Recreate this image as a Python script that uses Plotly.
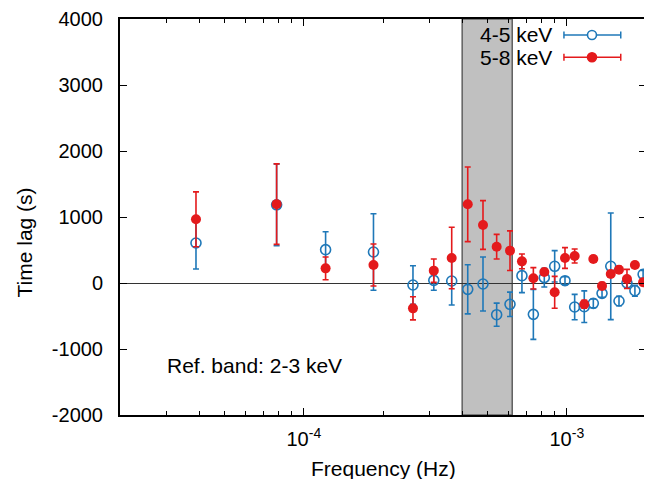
import plotly.graph_objects as go

# ---- data ----
freq = [3.89e-5, 7.88e-5, 1.21e-4, 1.84e-4, 2.60e-4, 3.12e-4, 3.65e-4, 4.20e-4,
        4.80e-4, 5.41e-4, 6.08e-4, 6.75e-4, 7.46e-4, 8.21e-4, 8.99e-4, 9.84e-4,
        1.071e-3, 1.165e-3, 1.261e-3, 1.361e-3, 1.469e-3, 1.579e-3, 1.693e-3,
        1.815e-3, 1.950e-3]

lag_45 = [606, 1185, 505, 470, -30, 40, 30, -96, -15, -480, -323, 111, -475, 81,
          253, 35, -364, -359, -308, -157, 253, -273, 0, -117, 132]
err_45 = [394, 620, 272, 580, 292, 150, 364, 372, 409, 175, 185, 257, 379, 141,
          237, 60, 192, 240, 66, 60, 808, 71, 68, 83, 60]

lag_58 = [965, 1195, 222, 273, -384, 187, 379, 1192, 879, 550, 490, 328, 71, 167,
          -141, 379, 409, -323, 364, -45, 136, 202, 61, 273, 11]
err_58 = [415, 610, 172, 318, 175, 177, 465, 565, 369, 187, 300, 111, 162, 50,
          242, 157, 106, 60, 50, 50, 50, 50, 145, 50, 50]

series_names = ["4-5 keV", "5-8 keV"]
ref_band_text = "Ref. band: 2-3 keV"
x_title = "Frequency (Hz)"
y_title = "Time lag (s)"
band_range = [4.0e-4, 6.2e-4]
x_range = [2e-5, 2e-3]
y_range = [-2000, 4000]
y_ticks = [-2000, -1000, 0, 1000, 2000, 3000, 4000]
y_tick_text = ["-2000", "-1000", "0", "1000", "2000", "3000", "4000"]
x_major = [1e-4, 1e-3]
x_major_text = ["10<sup>-4</sup>", "10<sup>-3</sup>"]
x_minor = [m * d for d in (1e-5, 1e-4, 1e-3) for m in range(2, 10)]

BLUE = "#1f78b8"
RED = "#e41a1c"
FONT = "Liberation Sans, Arial, Helvetica, sans-serif"
FS_TICK = 20
FS = 21

fig = go.Figure()

fig.add_trace(go.Scatter(
    x=freq, y=lag_45, mode="markers", name=series_names[0],
    marker=dict(symbol="circle-open", size=10, color=BLUE, line=dict(width=1.6, color=BLUE)),
    error_y=dict(type="data", array=err_45, color=BLUE, thickness=1.6, width=3),
    showlegend=False,
))
fig.add_trace(go.Scatter(
    x=freq, y=lag_58, mode="markers", name=series_names[1],
    marker=dict(symbol="circle", size=10, color=RED),
    error_y=dict(type="data", array=err_58, color=RED, thickness=1.6, width=3),
    showlegend=False,
))

# shaded band
fig.add_shape(type="rect", xref="x", yref="paper", x0=band_range[0], x1=band_range[1],
              y0=0, y1=1, fillcolor="#c0c0c0", line=dict(color="#606060", width=1.5),
              layer="below")

# custom legend (gnuplot style: text then sample with error bar)
for i, (name, col, sym) in enumerate([(series_names[0], BLUE, "open"), (series_names[1], RED, "filled")]):
    yp = [0.9596, 0.9033][i]
    x0p, x1p, xc = 0.844, 0.952, 0.8973
    fig.add_shape(type="line", xref="paper", yref="paper", x0=x0p, x1=x1p, y0=yp, y1=yp,
                  line=dict(color=col, width=1.5))
    for xe in (x0p, x1p):
        fig.add_shape(type="line", xref="paper", yref="paper", xsizemode="scaled",
                      ysizemode="pixel", yanchor=yp, x0=xe, x1=xe, y0=-3.5, y1=3.5,
                      line=dict(color=col, width=1.5))
    fig.add_shape(type="circle", xref="paper", yref="paper", xsizemode="pixel", ysizemode="pixel",
                  xanchor=xc, yanchor=yp, x0=-4.5, x1=4.5, y0=-4.5, y1=4.5,
                  fillcolor=("white" if sym == "open" else col),
                  line=dict(color=col, width=1.6))
    fig.add_annotation(x=0.826, y=yp, xref="paper", yref="paper", text=name,
                       showarrow=False, xanchor="right", yanchor="middle",
                       font=dict(family=FONT, size=FS, color="black"))

fig.add_annotation(x=0.086, y=0.126, xref="paper", yref="paper", text=ref_band_text,
                   showarrow=False, xanchor="left", yanchor="middle",
                   font=dict(family=FONT, size=FS, color="black"))

# axis titles as annotations for exact placement
fig.add_annotation(x=0.5, y=-0.134, xref="paper", yref="paper", text=x_title,
                   showarrow=False, xanchor="center", yanchor="middle",
                   font=dict(family=FONT, size=FS, color="black"))
fig.add_annotation(x=-0.1825, y=0.4356, xref="paper", yref="paper", text=y_title,
                   showarrow=False, xanchor="center", yanchor="middle", textangle=-90,
                   font=dict(family=FONT, size=FS, color="black"))

fig.update_xaxes(
    type="log", range=[-4.69897, -2.69897], automargin=False,
    tickmode="array", tickvals=x_major, ticktext=x_major_text,
    ticks="inside", ticklen=7, tickwidth=1.2, tickcolor="black",
    minor=dict(tickmode="array", tickvals=x_minor, ticks="inside", ticklen=4,
               tickwidth=1, tickcolor="black", showgrid=False),
    showline=True, linecolor="black", linewidth=2, mirror="allticks",
    showgrid=False, zeroline=False, ticklabelstandoff=5,
    tickfont=dict(family=FONT, size=FS_TICK, color="black"),
)
fig.update_yaxes(
    range=y_range, tickmode="array", tickvals=y_ticks, ticktext=y_tick_text,
    automargin=False, ticklabelstandoff=11,
    ticks="inside", ticklen=7, tickwidth=1.2, tickcolor="black",
    showline=True, linecolor="black", linewidth=2, mirror="allticks",
    showgrid=False, zeroline=True, zerolinecolor="#333333", zerolinewidth=1.2,
    tickfont=dict(family=FONT, size=FS_TICK, color="black"),
)

fig.update_layout(
    width=644, height=471,
    margin=dict(l=112, r=6, t=11, b=64),
    paper_bgcolor="white", plot_bgcolor="white",
    font=dict(family=FONT, size=FS, color="black"),
    showlegend=False,
)

fig.write_html("out.html")
